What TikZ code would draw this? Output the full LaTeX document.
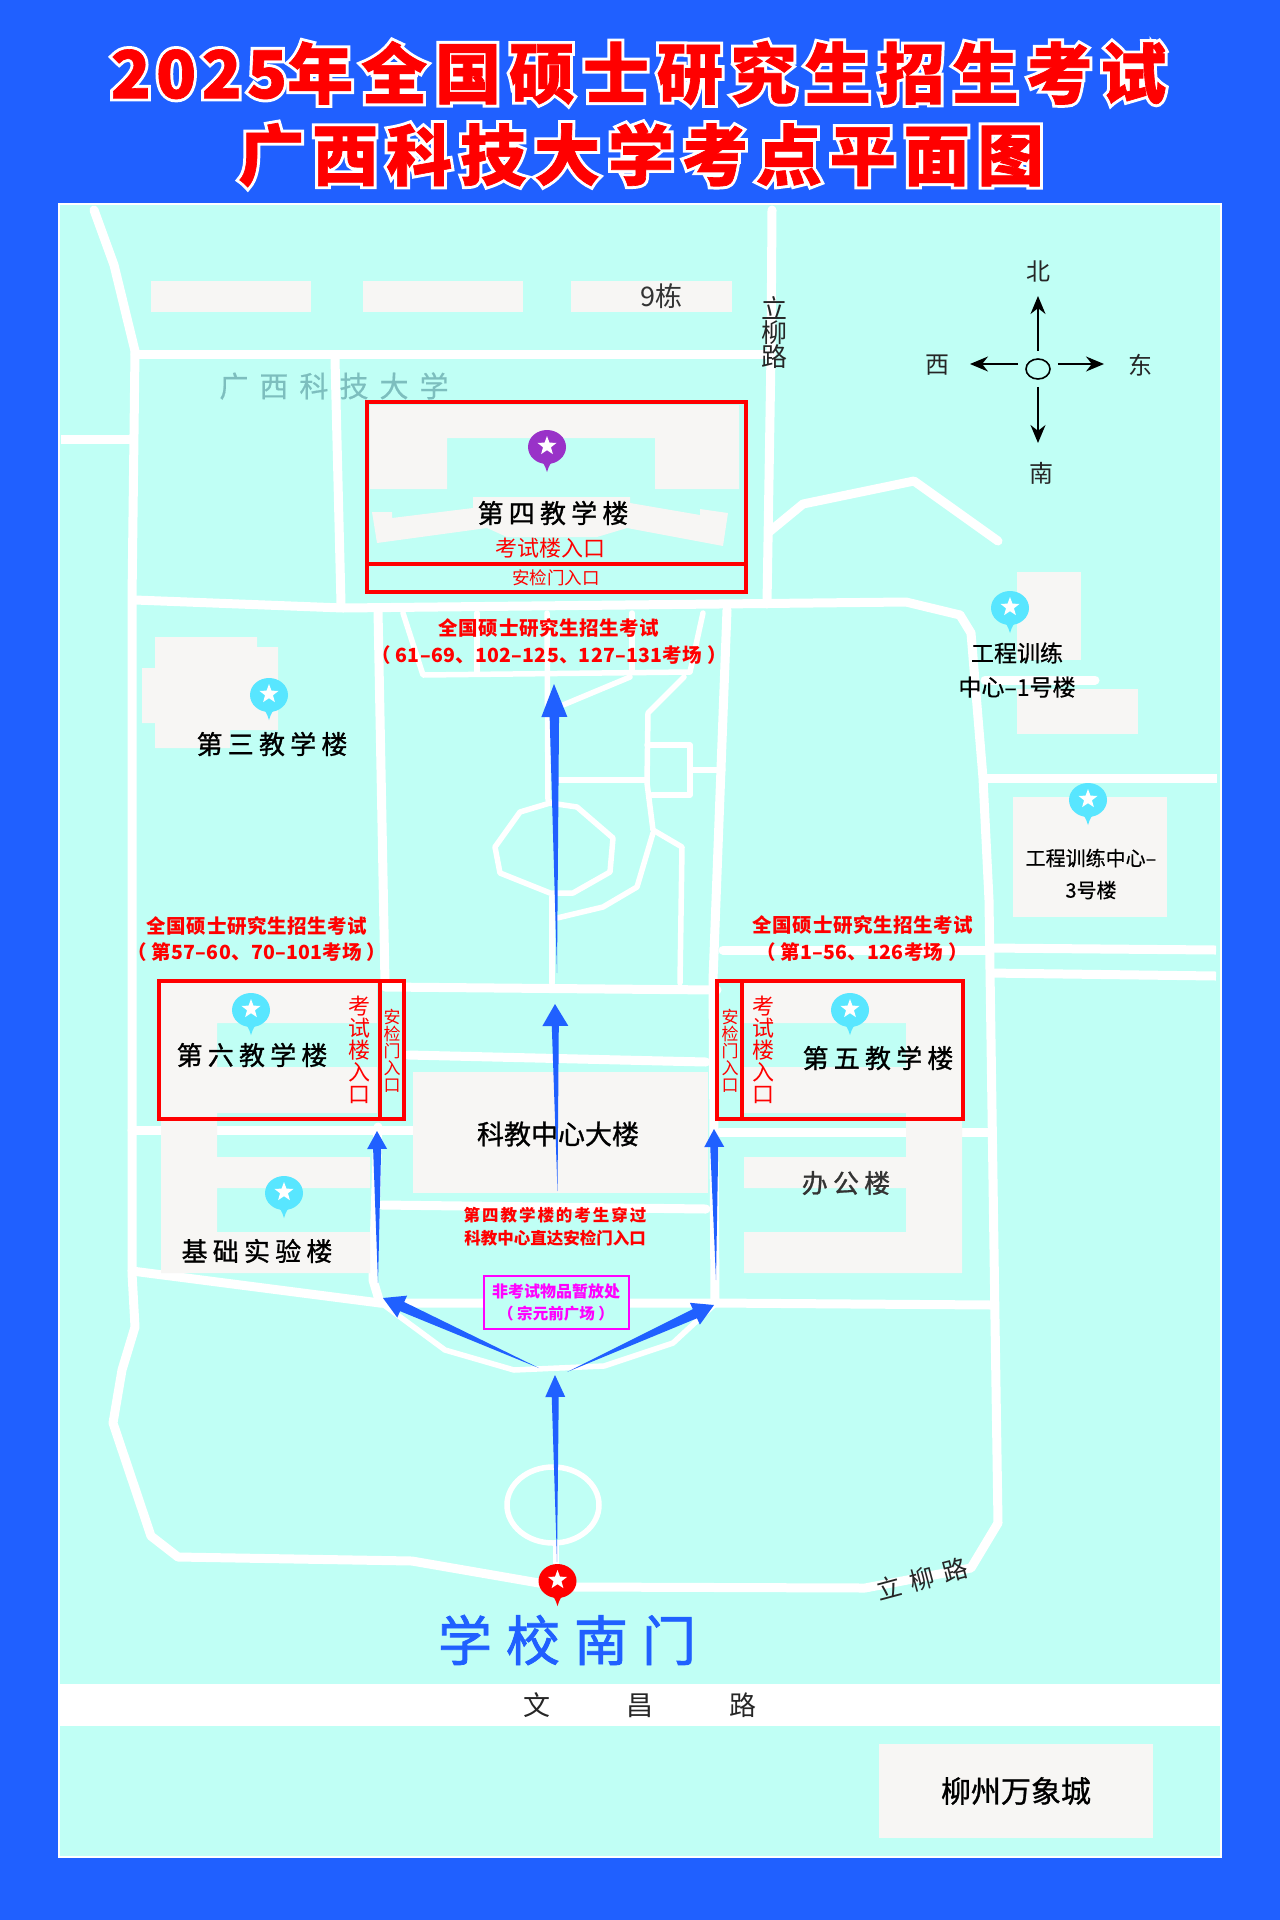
\documentclass[tikz,border=0pt]{standalone}
\usepackage{fontspec}
\setmainfont{Noto Sans CJK SC}
\newfontfamily\titlefont{Noto Sans CJK SC Black}[LetterSpace=12, FakeBold=1]
\newfontfamily\titlerim{Noto Sans CJK SC Black}[LetterSpace=12, FakeBold=10]
\usetikzlibrary{calc}
\usetikzlibrary{arrows.meta}
\usetikzlibrary{shapes.geometric}

\definecolor{frameblue}{RGB}{32,96,255}
\definecolor{lawn}{RGB}{192,255,245}
\definecolor{bldggrey}{RGB}{247,246,244}
\definecolor{pincyan}{RGB}{88,230,255}
\definecolor{pinpurple}{RGB}{153,50,200}
\definecolor{campusteal}{RGB}{125,190,190}
\definecolor{notemagenta}{RGB}{255,0,255}

\tikzset{
    roadline/.style = {draw = white, line width = 9pt, line join = round, line cap = round},
    pathline/.style = {draw = white, line width = 5.5pt, line join = round, line cap = round},
    bldg/.style = {fill = bldggrey},
    redbox/.style = {draw = red, line width = 3.5pt},
    caption/.style = {inner sep = 0pt, text = red, font = \fontsize{19.5}{19.5}\selectfont\bfseries\addfontfeature{LetterSpace=3}},
    roomlist/.style = {inner sep = 0pt, text = red, font = \fontsize{19.5}{19.5}\selectfont\bfseries\addfontfeature{LetterSpace=1.5}},
    building/.style = {inner sep = 0pt, text = black, font = \fontsize{26}{26}\selectfont\addfontfeature{LetterSpace=20, FakeBold=1}},
    entrance/.style = {inner sep = 0pt, text = red, align = center},
    compassarrow/.style = {-{Stealth[length = 18pt, width = 15pt]}, line width = 1.6pt, shorten <= 7pt},
    compasslabel/.style = {inner sep = 0pt, text = black!85, font = \fontsize{24}{24}\selectfont}
}

% tapered route arrow: tail, tip, head length, head half width, shaft half width
\newcommand{\routearrow}[5]{
    \coordinate (headbase) at ($(#2)!#3pt!(#1)$);
    \fill[frameblue] (#1) -- ($(headbase)!#5pt!90:(#2)$) -- ($(headbase)!#4pt!90:(#2)$) -- (#2)
        -- ($(headbase)!#4pt!-90:(#2)$) -- ($(headbase)!#5pt!-90:(#2)$) -- cycle;
}
% map pin: colour, centre
\newcommand{\mappin}[2]{
    \begin{scope}[shift = {(#2)}]
        \fill[#1] (0,0) ellipse [x radius = 19pt, y radius = 17pt];
        \fill[#1] (-10,11) .. controls (-3,15) and (-2,19) .. (0,25) .. controls (2,19) and (3,15) .. (10,11) -- cycle;
        \node[shape = star, star points = 5, star point ratio = 2.4, fill = white, minimum size = 20pt, inner sep = 0pt] at (0,-1) {};
    \end{scope}
}
% heading line with white rim
\newcommand{\headline}[2]{
    \node[inner sep = 0pt, text = white, font = \fontsize{66}{66}\titlerim] at (#1) {#2};
    \node[inner sep = 0pt, text = red, font = \fontsize{66}{66}\titlefont] at (#1) {#2};
}

\begin{document}
\begin{tikzpicture}[x = 1pt, y = -1pt]
    \useasboundingbox (0,0) rectangle (1280,1920);
    \fill[frameblue] (0,0) rectangle (1280,1920);
    \fill[white] (58,203) rectangle (1222,1858);
    \fill[lawn] (60,205) rectangle (1220,1856);

    % roads
    \draw[roadline] (94,210) -- (114,265) -- (135,351) -- (132,600) -- (132,1273) -- (135,1327) -- (122,1370) -- (113,1423) -- (151,1536)
        -- (178,1557) -- (412,1561) -- (539,1583) -- (575,1587) -- (865,1588) -- (971,1568) -- (998,1523) -- (995,1320) -- (989,900) -- (983,778) -- (971,633) -- (960,615);
    \draw[roadline] (135,354) -- (771,354);
    \draw[roadline] (772,210) -- (771,354) -- (767,604);
    \draw[roadline] (769,532) -- (803,504) -- (914,481) -- (998,541);
    \draw[roadline, line cap = butt] (61,439) -- (130,439);
    \draw[roadline] (135,600) -- (343,608) -- (906,602) -- (960,615);
    \draw[roadline] (335,359) -- (341,604);
    \draw[roadline] (378,610) -- (385,983);
    \draw[roadline] (727,610) -- (713,980) -- (715,1300);
    \draw[roadline] (385,987) -- (717,990);
    \draw[roadline] (408,1055) -- (706,1062);
    \draw[roadline] (132,1130) -- (413,1130);
    \draw[roadline] (720,1132) -- (990,1132);
    \draw[roadline] (382,1205) -- (706,1209);
    \draw[roadline] (378,1127) -- (373,1280) -- (380,1303);
    \draw[roadline] (132,1271) -- (380,1303) -- (714,1303) -- (992,1305);
    \draw[roadline] (723,950) -- (987,950);
    \draw[roadline, line cap = butt] (985,778) -- (1217,778);
    \draw[roadline, line cap = butt] (988,948) -- (1216,950);
    \draw[roadline, line cap = butt] (988,973) -- (1216,976);
    \draw[roadline] (985,680) -- (1095,680);
    \draw[pathline] (384,1305) -- (445,1350) -- (514,1370) -- (604,1366) -- (673,1343) -- (714,1305);
    \draw[pathline] (403,613) -- (423,675) -- (690,672) -- (703,613);
    \draw[pathline] (477,613) -- (477,672);
    \draw[pathline] (547,613) -- (548,800);
    \draw[pathline] (632,613) -- (632,672);
    \draw[pathline] (563,705) -- (630,677);
    \draw[pathline] (684,677) -- (648,713) -- (647,783) -- (653,830) -- (682,847) -- (680,983);
    \draw[pathline] (647,745) -- (690,745) -- (690,795) -- (652,795);
    \draw[pathline] (690,770) -- (723,770);
    \draw[pathline] (556,780) -- (645,780);
    \draw[pathline] (653,833) -- (637,887) -- (603,907) -- (557,918);
    \draw[pathline] (550,803) -- (577,807) -- (613,838) -- (610,872) -- (573,893) -- (550,893) -- (500,873) -- (495,847) -- (520,812) -- cycle;
    \draw[pathline] (552,897) -- (552,983);
    \draw[pathline] (553,1505) ellipse [x radius = 46pt, y radius = 38pt];
    \draw[pathline] (556,1543) -- (556,1585);
    \fill[white] (60,1684) rectangle (1220,1726);

    % buildings
    \fill[bldg] (151,281) rectangle (311,312);
    \fill[bldg] (363,281) rectangle (523,312);
    \fill[bldg] (571,281) rectangle (732,312);
    \fill[bldg] (370,405) -- (739,405) -- (739,489) -- (655,489) -- (655,438) -- (447,438) -- (447,489) -- (370,489) -- cycle;
    \fill[bldg] (372,512) -- (392,512) -- (392,518) -- (473,508) -- (473,497) -- (630,497) -- (630,503) -- (700,515) -- (700,509) -- (728,513) -- (723,546)
        -- (627,528) -- (597,537) -- (507,537) -- (487,528) -- (377,543) -- cycle;
    \fill[bldg] (155,637) -- (257,637) -- (257,647) -- (278,647) -- (278,730) -- (230,730) -- (230,748) -- (155,748) -- (155,723) -- (142,723) -- (142,668) -- (155,668) -- cycle;
    \fill[bldg] (161,983) -- (377,983) -- (377,1023) -- (217,1023) -- (217,1067) -- (377,1067) -- (377,1113) -- (217,1113) -- (217,1157) -- (370,1157) -- (370,1188)
        -- (217,1188) -- (217,1232) -- (370,1232) -- (370,1273) -- (161,1273) -- cycle;
    \fill[bldg] (744,983) -- (962,983) -- (962,1273) -- (744,1273) -- (744,1232) -- (906,1232) -- (906,1188) -- (744,1188) -- (744,1157) -- (906,1157) -- (906,1113)
        -- (744,1113) -- (744,1067) -- (906,1067) -- (906,1023) -- (744,1023) -- cycle;
    \fill[bldg] (413,1072) rectangle (708,1193);
    \fill[bldg] (1017,572) rectangle (1081,660);
    \fill[bldg] (1017,689) rectangle (1138,734);
    \fill[bldg] (1013,797) rectangle (1167,917);
    \fill[bldg] (879,1744) rectangle (1153,1838);

    % exam zones
    \draw[redbox] (367,402) rectangle (746,592);
    \draw[redbox] (367,564) -- (746,564);
    \draw[redbox] (159,981) rectangle (404,1119);
    \draw[redbox] (380,981) -- (380,1119);
    \draw[redbox] (717,981) rectangle (963,1119);
    \draw[redbox] (742,981) -- (742,1119);
    \draw[notemagenta, fill = lawn, line width = 2pt] (484,1276) rectangle (629,1329);

    % routes
    \routearrow{557,973}{554,684}{33}{13}{4.7}
    \routearrow{557.5,1191}{555,1004}{22}{13}{3.5}
    \routearrow{378,1283}{377,1131}{18}{10}{4}
    \routearrow{716,1280}{714,1129}{18}{10}{4}
    \routearrow{539,1368}{383,1298}{21}{12}{5}
    \routearrow{567,1372}{714,1305}{21}{12}{5}
    \routearrow{557,1562}{555,1375}{22}{10}{3.5}

    % pins
    \mappin{pinpurple}{547,447}
    \mappin{pincyan}{269,695}
    \mappin{pincyan}{251,1010}
    \mappin{pincyan}{850,1010}
    \mappin{pincyan}{284,1193}
    \mappin{pincyan}{1010,608}
    \mappin{pincyan}{1088,800}
    \mappin{red}{557.5,1581}

    % heading
    \headline{638.5,73}{{\addfontfeature{LetterSpace=8}2025}年全国硕士研究生招生考试}
    \headline{641,155}{广西科技大学考点平面图}

    % compass
    \node[draw, shape = ellipse, line width = 1.6pt, minimum width = 24pt, minimum height = 20pt, inner sep = 0pt] (ring) at (1038,369) {};
    \coordinate (northtip) at (1038,296);
    \coordinate (southtip) at (1038,443);
    \coordinate (westtip) at (970,364);
    \coordinate (easttip) at (1104,364);
    \draw[compassarrow] (ring.north) -- (northtip);
    \draw[compassarrow] (ring.south) -- (southtip);
    \draw[compassarrow] (ring.west |- westtip) -- (westtip);
    \draw[compassarrow] (ring.east |- easttip) -- (easttip);
    \node[compasslabel] (northlabel) at (1038,271) {北};
    \node[compasslabel] (southlabel) at (1041,473) {南};
    \node[compasslabel] (westlabel) at (937,365) {西};
    \node[compasslabel] (eastlabel) at (1140,365) {东};

    % labels
    \node[inner sep = 0pt, text = black!80, font = \fontsize{27}{27}\selectfont] (ninth) at (661,296) {9栋};
    \node[inner sep = 0pt, text = black!85, align = center, font = \fontsize{26}{24}\selectfont] (liliunorth) at (774,333) {立\\柳\\路};
    \node[inner sep = 0pt, text = campusteal, font = \fontsize{29}{29}\selectfont\addfontfeature{LetterSpace=38, FakeBold=0.5}] (campus) at (334,386) {广西科技大学};
    \node[building] (fourth) at (553,513) {第四教学楼};
    \node[entrance, font = \fontsize{22}{22}\selectfont] (fourthentry) at (550,548) {考试楼入口};
    \node[entrance, font = \fontsize{17.5}{17.5}\selectfont] (fourthgate) at (556,578) {安检门入口};
    \node[caption] (fourthhead) at (549,628) {全国硕士研究生招生考试};
    \node[roomlist] (fourthrooms) at (549,655) {（ 61–69、102–125、127–131考场 ）};
    \node[building] (third) at (272,744) {第三教学楼};
    \node[caption] (sixthhead) at (257,926) {全国硕士研究生招生考试};
    \node[roomlist] (sixthrooms) at (257,952) {（ 第57–60、70–101考场 ）};
    \node[caption] (fifthhead) at (863,925) {全国硕士研究生招生考试};
    \node[roomlist] (fifthrooms) at (862,952) {（ 第1–56、126考场 ）};
    \node[building] (sixth) at (252,1055) {第六教学楼};
    \node[building] (fifth) at (878,1058) {第五教学楼};
    \node[entrance, font = \fontsize{22}{22}\selectfont] (sixthentry) at (359,1050) {考\\试\\楼\\入\\口};
    \node[entrance, font = \fontsize{17}{17}\selectfont] (sixthgate) at (392,1051) {安\\检\\门\\入\\口};
    \node[entrance, font = \fontsize{22}{22}\selectfont] (fifthentry) at (763,1050) {考\\试\\楼\\入\\口};
    \node[entrance, font = \fontsize{17}{17}\selectfont] (fifthgate) at (730,1051) {安\\检\\门\\入\\口};
    \node[building, font = \fontsize{27}{27}\selectfont\addfontfeature{FakeBold=1}] (sciencecentre) at (558,1134) {科教中心大楼};
    \node[building, text = black!80] (office) at (846,1183) {办公楼};
    \node[building] (basiclab) at (257,1251) {基础实验楼};
    \node[caption, font = \fontsize{16.5}{16.5}\selectfont\bfseries\addfontfeature{LetterSpace=12}] (crossone) at (555,1215) {第四教学楼的考生穿过};
    \node[caption, font = \fontsize{16.5}{16.5}\selectfont\bfseries] (crosstwo) at (555,1238) {科教中心直达安检门入口};
    \node[inner sep = 0pt, text = notemagenta, font = \fontsize{16}{16}\selectfont\bfseries] (notehead) at (556,1291) {非考试物品暂放处};
    \node[inner sep = 0pt, text = notemagenta, font = \fontsize{15.5}{15.5}\selectfont\bfseries] (noteplace) at (556,1314) {（ 宗元前广场 ）};
    \node[inner sep = 0pt, text = black, align = center, font = \fontsize{23}{34}\selectfont\addfontfeature{FakeBold=0.5}] (engone) at (1017,670) {工程训练\\中心–1号楼};
    \node[inner sep = 0pt, text = black, align = center, font = \fontsize{20}{32}\selectfont\addfontfeature{FakeBold=0.5}] (engthree) at (1091,874) {工程训练中心–\\3号楼};
    \node[inner sep = 0pt, text = frameblue, font = \fontsize{54}{54}\selectfont\addfontfeature{LetterSpace=26, FakeBold=1.5}] (southgate) at (567,1640) {学校南门};
    \node[inner sep = 0pt, text = black!85, rotate = 15, font = \fontsize{25}{25}\selectfont\addfontfeature{LetterSpace=35}] (liliusouth) at (922,1579) {立柳路};
    \node[inner sep = 0pt, text = black!85, font = \fontsize{27}{27}\selectfont] (wenchang) at (640,1705) {文\hspace{76pt}昌\hspace{76pt}路};
    \node[inner sep = 0pt, text = black, font = \fontsize{30}{30}\selectfont\addfontfeature{FakeBold=1}] (wanxiang) at (1016,1791) {柳州万象城};
\end{tikzpicture}
\end{document}
